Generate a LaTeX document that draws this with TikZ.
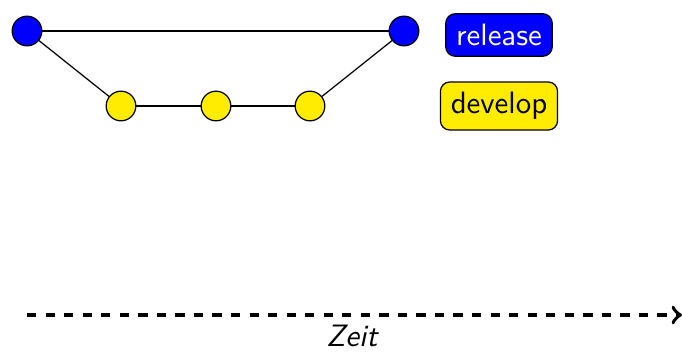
\documentclass[tikz,border=0pt]{standalone}
\usepackage{fontspec}
\definecolor{devyellow}{RGB}{255,236,0}
\tikzset{
  relcommit/.style={circle, draw=black, fill=blue, minimum size=9.6pt, inner sep=0pt},
  devcommit/.style={circle, draw=black, fill=devyellow, minimum size=9.6pt, inner sep=0pt},
  legendbox/.style={draw=black, rounded corners=3pt, font=\sffamily, inner sep=0.3333em},
  edge/.style={draw=black, line width=0.4pt},
}
\begin{document}
\begin{tikzpicture}[x=0.3236pt, y=-0.3236pt]
  \useasboundingbox (0,0) rectangle (682,356);
  % release branch commits
  \node[relcommit] (r1) at (27,31) {};
  \node[relcommit] (r2) at (404,31) {};
  % develop branch commits
  \node[devcommit] (d1) at (121,106) {};
  \node[devcommit] (d2) at (216,106) {};
  \node[devcommit] (d3) at (310,106) {};
  % history
  \draw[edge] (r1) -- (r2);
  \draw[edge] (r1) -- (d1);
  \draw[edge] (d1) -- (d2);
  \draw[edge] (d2) -- (d3);
  \draw[edge] (d3) -- (r2);
  % legend
  \node[legendbox, fill=blue, text=white] (lrel) at (499,35) {release};
  \node[legendbox, fill=devyellow, text=black] (ldev) at (499,106) {develop};
  % time axis
  \coordinate (t0) at (27,315);
  \coordinate (t1) at (682,315);
  \draw[very thick, dashed, ->] (t0) -- (t1);
  \node[font=\sffamily\itshape] (zeit) at (352,336) {Zeit};
\end{tikzpicture}
\end{document}
